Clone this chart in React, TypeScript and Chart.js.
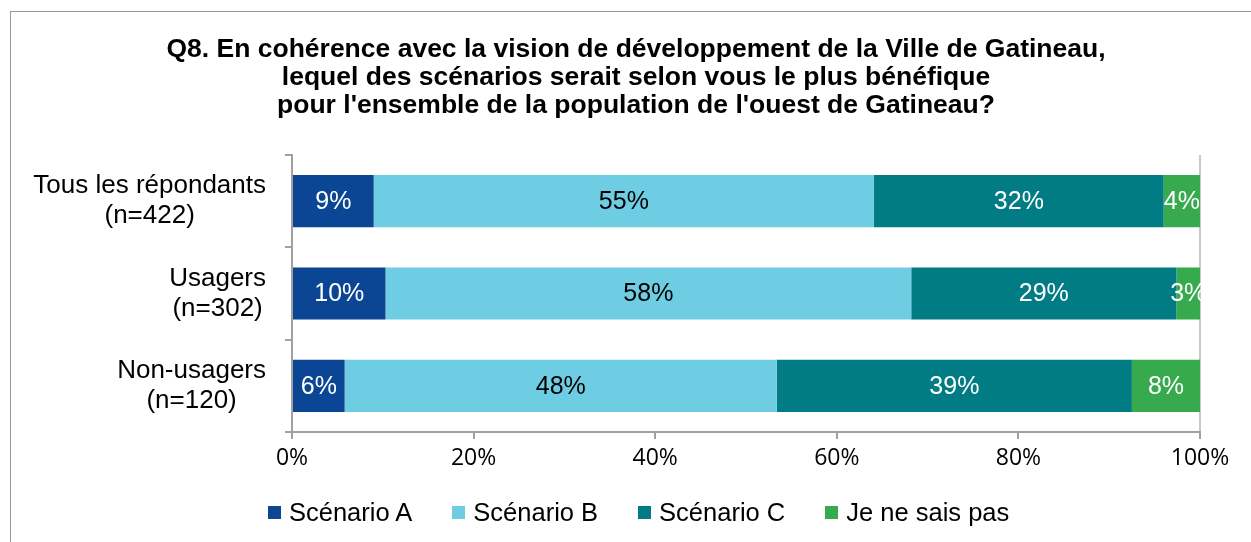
import React, { useEffect, useRef } from "react";
import { Chart, registerables } from "chart.js";

Chart.register(...registerables);

const titleLines = [
  "Q8. En cohérence avec la vision de développement de la Ville de Gatineau,",
  "lequel des scénarios serait selon vous le plus bénéfique",
  "pour l'ensemble de la population de l'ouest de Gatineau?",
];
const categories = [
  ["Tous les répondants", "(n=422)"],
  ["Usagers", "(n=302)"],
  ["Non-usagers", "(n=120)"],
];
const seriesNames = ["Scénario A", "Scénario B", "Scénario C", "Je ne sais pas"];
const scenarioA = [9.0, 10.3, 5.8];
const scenarioB = [55.1, 57.9, 47.6];
const scenarioC = [31.9, 29.2, 39.1];
const jeNeSaisPas = [4.0, 2.6, 7.5];
const seriesColors = ["#0b4694", "#6fcde3", "#017b84", "#36aa4c"];
const labelColors = ["#ffffff", "#000000", "#ffffff", "#ffffff"];
const xTickValues = [0, 20, 40, 60, 80, 100];

const ARIAL = '"Liberation Sans", Arial, sans-serif';

const labelsPlugin = {
  id: "customLabels",
  afterDatasetsDraw(chart: any) {
    const ctx = chart.ctx;
    ctx.save();
    ctx.font = `25px ${ARIAL}`;
    ctx.textAlign = "center";
    ctx.textBaseline = "middle";
    chart.data.datasets.forEach((ds: any, di: number) => {
      const meta = chart.getDatasetMeta(di);
      meta.data.forEach((bar: any, i: number) => {
        const v = ds.data[i];
        const cx = (bar.x + bar.base) / 2;
        ctx.fillStyle = labelColors[di];
        ctx.fillText(Math.round(v) + "%", cx, bar.y + 1);
      });
    });
    ctx.restore();
  },
  afterDraw(chart: any) {
    const ctx = chart.ctx;
    const yScale = chart.scales.y;
    ctx.save();
    ctx.font = `26px ${ARIAL}`;
    ctx.textAlign = "center";
    ctx.textBaseline = "middle";
    ctx.fillStyle = "#000";
    const rightEdge = yScale.right - 26;
    categories.forEach((lines, i) => {
      const cy = yScale.getPixelForValue(i);
      const maxW = Math.max(...lines.map((l) => ctx.measureText(l).width));
      const cx = rightEdge - maxW / 2;
      const lh = 30;
      lines.forEach((l, j) => {
        ctx.fillText(l, cx, cy + (j - (lines.length - 1) / 2) * lh);
      });
    });
    ctx.restore();
  },
};

export default function App() {
  const canvasRef = useRef<HTMLCanvasElement | null>(null);

  useEffect(() => {
    const canvas = canvasRef.current;
    if (!canvas) return;
    const allSeries = [scenarioA, scenarioB, scenarioC, jeNeSaisPas];
    const chart = new Chart(canvas, {
      type: "bar",
      data: {
        labels: categories.map((c) => c.join(" ")),
        datasets: allSeries.map((d, i) => ({
          label: seriesNames[i],
          data: d,
          backgroundColor: seriesColors[i],
          borderWidth: 0,
          barPercentage: 1,
          categoryPercentage: 0.565,
        })),
      },
      options: {
        indexAxis: "y",
        responsive: false,
        animation: false,
        devicePixelRatio: 1,
        layout: { padding: { top: 155, right: 51, left: 0, bottom: 0 } },
        plugins: {
          legend: { display: false },
          title: { display: false },
          tooltip: { enabled: false },
        },
        scales: {
          x: {
            stacked: true,
            min: 0,
            max: 100,
            afterBuildTicks: (s: any) => {
              s.ticks = xTickValues.map((v) => ({ value: v }));
            },
            ticks: {
              callback: (v: any) => v + "%",
              font: { family: '"Open Sans", sans-serif', size: 23 },
              color: "#000",
              padding: 6,
              maxRotation: 0,
              autoSkip: false,
            },
            grid: {
              drawOnChartArea: true,
              color: (c: any) =>
                c.tick && c.tick.value === 100 ? "#c8c8c8" : "rgba(0,0,0,0)",
              tickColor: "#a0a0a0",
              tickLength: 7,
              lineWidth: 2,
            },
            border: { display: true, color: "#a0a0a0", width: 2 },
            afterFit: (s: any) => {
              s.height = 110;
            },
          },
          y: {
            stacked: true,
            ticks: { display: false },
            grid: {
              drawOnChartArea: false,
              color: "#a0a0a0",
              tickLength: 7,
              lineWidth: 2,
              offset: true,
            },
            border: { display: true, color: "#a0a0a0", width: 2 },
            afterFit: (s: any) => {
              s.width = 292;
            },
          },
        },
      },
      plugins: [labelsPlugin],
    } as any);
    return () => chart.destroy();
  }, []);

  return (
    <div
      style={{
        position: "fixed",
        left: 0,
        top: 0,
        width: 1251,
        height: 542,
        overflow: "hidden",
        background: "#fff",
      }}
    >
      <div
        style={{
          position: "absolute",
          left: 10,
          top: 11,
          width: 1300,
          height: 600,
          border: "1.5px solid #9a9a9a",
        }}
      />
      <canvas
        ref={canvasRef}
        width={1251}
        height={542}
        style={{ position: "absolute", left: 0, top: 0, width: 1251, height: 542 }}
      />
      <div
        style={{
          position: "absolute",
          left: 0,
          width: 1272,
          top: 34,
          textAlign: "center",
          fontFamily: ARIAL,
          fontWeight: "bold",
          fontSize: 26.5,
          lineHeight: "28px",
          color: "#000",
          whiteSpace: "nowrap",
        }}
      >
        {titleLines.map((l, i) => (
          <div key={i}>{l}</div>
        ))}
      </div>
      <div
        style={{
          position: "absolute",
          left: 268,
          top: 497,
          height: 30,
          display: "flex",
          alignItems: "center",
          gap: 40,
          fontFamily: ARIAL,
          fontSize: 25.5,
          color: "#000",
          whiteSpace: "nowrap",
        }}
      >
        {seriesNames.map((n, i) => (
          <div key={i} style={{ display: "flex", alignItems: "center" }}>
            <span
              style={{
                display: "inline-block",
                width: 13,
                height: 13,
                background: seriesColors[i],
                marginRight: 8,
              }}
            />
            <span>{n}</span>
          </div>
        ))}
      </div>
    </div>
  );
}
